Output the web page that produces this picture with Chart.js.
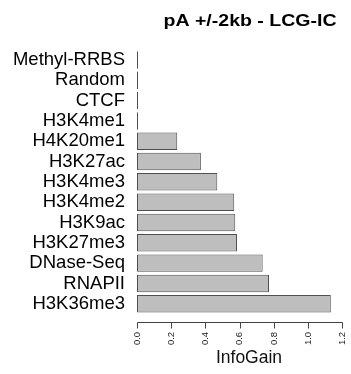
<!DOCTYPE html>
<html>
<head>
<meta charset="utf-8">
<script src="https://cdn.jsdelivr.net/npm/chart.js@4.4.1/dist/chart.umd.min.js"></script>
<style>
  html, body { margin: 0; padding: 0; background: #fff; overflow: hidden; }
  canvas { display: block; }
</style>
</head>
<body>
<canvas id="chart" width="351" height="374"></canvas>
<script>
// Feature names, top to bottom
const features = ['Methyl-RRBS', 'Random', 'CTCF', 'H3K4me1', 'H4K20me1', 'H3K27ac',
  'H3K4me3', 'H3K4me2', 'H3K9ac', 'H3K27me3', 'DNase-Seq', 'RNAPII', 'H3K36me3'];
// Information gain per feature
const infoGain = [0.006, 0.006, 0.006, 0.006, 0.235, 0.373,
  0.469, 0.568, 0.574, 0.584, 0.734, 0.771, 1.132];
// Axis ticks
const tickValues = [0, 0.2, 0.4, 0.6, 0.8, 1.0, 1.2];
const tickLabels = ['0.0', '0.2', '0.4', '0.6', '0.8', '1.0', '1.2'];

const chartTitle = 'pA +/-2kb - LCG-IC';
const axisTitle = 'InfoGain';

// Draws the detached bottom axis line with tick marks, plus the titles
const decorations = {
  id: 'decorations',
  afterDraw(chart) {
    const ctx = chart.ctx;
    const x = chart.scales.x;
    const area = chart.chartArea;
    const yAxis = Math.round(area.bottom + 8.4) + 0.5;
    ctx.save();
    ctx.strokeStyle = '#444';
    ctx.lineWidth = 1;
    ctx.beginPath();
    const x0 = Math.round(x.getPixelForValue(tickValues[0])) + 0.5;
    const x1 = Math.round(x.getPixelForValue(tickValues[tickValues.length - 1])) + 0.5;
    ctx.moveTo(x0, yAxis);
    ctx.lineTo(x1, yAxis);
    tickValues.forEach(v => {
      const px = Math.round(x.getPixelForValue(v)) + 0.5;
      ctx.moveTo(px, yAxis);
      ctx.lineTo(px, yAxis + 6);
    });
    ctx.stroke();

    // main title (slightly widened lettering)
    ctx.fillStyle = '#000';
    ctx.textAlign = 'center';
    ctx.textBaseline = 'alphabetic';
    ctx.font = 'bold 16px "Liberation Sans", Arial, sans-serif';
    const w = ctx.measureText(chartTitle).width;
    const sx = 173 / w;
    ctx.save();
    ctx.translate(250, 25.7);
    ctx.scale(sx, 1);
    ctx.fillText(chartTitle, 0, 0);
    ctx.restore();

    // x axis title
    ctx.font = '17.5px "Liberation Sans", Arial, sans-serif';
    ctx.fillStyle = '#111';
    ctx.fillText(axisTitle, 249, 363);
    ctx.restore();
  }
};

new Chart(document.getElementById('chart'), {
  type: 'bar',
  data: {
    labels: features,
    datasets: [{
      data: infoGain,
      backgroundColor: '#bebebe',
      borderColor: '#4f4f4f',
      borderWidth: 1,
      borderSkipped: false,
      barPercentage: 0.86,
      categoryPercentage: 1.0
    }]
  },
  options: {
    indexAxis: 'y',
    responsive: false,
    animation: false,
    devicePixelRatio: 1,
    layout: { padding: { top: 49.8, right: 0, bottom: 0, left: 0 } },
    plugins: {
      legend: { display: false },
      title: { display: false },
      tooltip: { enabled: false }
    },
    scales: {
      x: {
        type: 'linear',
        min: 0,
        max: 1.25,
        grid: { display: false, drawTicks: false },
        border: { display: false },
        afterBuildTicks(scale) {
          scale.ticks = tickValues.map(v => ({ value: v }));
        },
        afterFit(scale) {
          scale.height = 60.1;
          scale.paddingLeft = 0;
          scale.paddingRight = 0;
        },
        ticks: {
          autoSkip: false,
          minRotation: 90,
          maxRotation: 90,
          padding: 18,
          color: '#222',
          font: { family: '"Liberation Sans", Arial, sans-serif', size: 9.5 },
          callback(value) {
            const i = tickValues.indexOf(value);
            return i >= 0 ? tickLabels[i] : '';
          }
        }
      },
      y: {
        offset: true,
        grid: { display: false, drawTicks: false },
        border: { display: false },
        afterFit(scale) {
          scale.width = 137;
          scale.paddingTop = 0;
          scale.paddingBottom = 0;
        },
        ticks: {
          autoSkip: false,
          padding: 12,
          color: '#000',
          font: { family: '"Liberation Sans", Arial, sans-serif', size: 18.5 }
        }
      }
    }
  },
  plugins: [decorations]
});
</script>
</body>
</html>
